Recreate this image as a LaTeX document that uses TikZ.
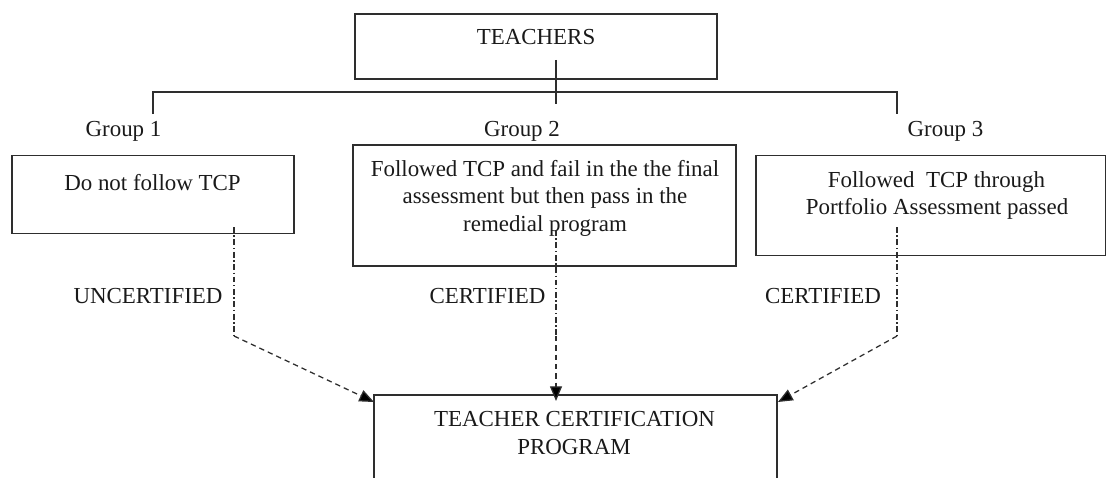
\documentclass[tikz,border=0pt]{standalone}
\usepackage{fontspec}
\setmainfont{Liberation Serif}
\usetikzlibrary{arrows.meta}
\definecolor{ink}{HTML}{1A1A1A}
\definecolor{edge}{HTML}{2E2E2E}
\begin{document}
\begin{tikzpicture}[x=0.75pt,y=-0.75pt,
  every node/.style={inner sep=0pt,outer sep=0pt,font=\fontsize{17.2}{20}\selectfont,text=ink},
  boxnode/.style={draw=edge,line width=0.85pt,rectangle},
  txt/.style={anchor=base},
  plainline/.style={draw=edge,line width=0.85pt},
  dashdotline/.style={draw=edge,line width=0.95pt,dash pattern=on 4.4pt off 1.9pt on 1.1pt off 1.9pt},
  dashline/.style={draw=edge,line width=0.95pt,dash pattern=on 4pt off 3pt},
  tip/.style={-{Triangle[length=11pt,width=9pt,fill=black]}}
]
\useasboundingbox (0,0) rectangle (1106,478);

% boxes
\node[boxnode,minimum width=362*0.75pt,minimum height=65*0.75pt] (teach) at (536,46.5) {};
\node[boxnode,minimum width=282*0.75pt,minimum height=78*0.75pt] (b1) at (153,194.5) {};
\node[boxnode,minimum width=383*0.75pt,minimum height=121*0.75pt] (b2) at (544.5,205.5) {};
\node[boxnode,minimum width=350*0.75pt,minimum height=100*0.75pt] (b3) at (931,205.5) {};
\node[boxnode,minimum width=403*0.75pt,minimum height=160*0.75pt] (tcp) at (575.5,475) {};

% texts
\node[txt] (tteach) at (536,45) {TEACHERS};
\node[txt] (g1) at (123.5,136) {Group 1};
\node[txt] (g2) at (522,136) {Group 2};
\node[txt] (g3) at (945.5,136) {Group 3};
\node[txt] (t1) at (152.5,190) {Do not follow TCP};
\node[txt] (t2a) at (545,176) {Followed TCP and fail in the the final};
\node[txt] (t2b) at (545,203.5) {assessment but then pass in the};
\node[txt] (t2c) at (545,231) {remedial program};
\node[txt] (t3a) at (936.5,187.3) {Followed\ \ TCP through};
\node[txt] (t3b) at (937,214.3) {Portfolio Assessment passed};
\node[txt] (l1) at (148,303) {UNCERTIFIED};
\node[txt] (l2) at (487.5,303) {CERTIFIED};
\node[txt] (l3) at (823,303) {CERTIFIED};
\node[txt] (t4a) at (574.5,426.7) {TEACHER CERTIFICATION};
\node[txt] (t4b) at (574,454) {PROGRAM};

% tree connectors
\coordinate (tv1) at (556,60);
\coordinate (tv2) at (556,104);
\coordinate (hl) at (153,92);
\coordinate (hr) at (897,92);
\coordinate (c1) at (153,114);
\coordinate (c3) at (897,114);
\draw[plainline] (tv1) -- (tv2);
\draw[plainline] (c1) -- (hl) -- (hr) -- (c3);

% dashed connectors
\coordinate (d1a) at (234,227);
\coordinate (d1b) at (234,336);
\coordinate (d2a) at (556,230);
\coordinate (d2b) at (556,336);
\coordinate (d3a) at (897,227);
\coordinate (d3b) at (897,336);
\coordinate (e1) at (374,402);
\coordinate (e2) at (556,401);
\coordinate (e3) at (778,402);
\draw[dashdotline] (d1a) -- (d1b);
\draw[dashline,tip] (d1b) -- (e1);
\draw[dashdotline] (d2a) -- (d2b);
\draw[dashline,tip] (d2b) -- (e2);
\draw[dashdotline] (d3a) -- (d3b);
\draw[dashline,tip] (d3b) -- (e3);
\end{tikzpicture}
\end{document}
